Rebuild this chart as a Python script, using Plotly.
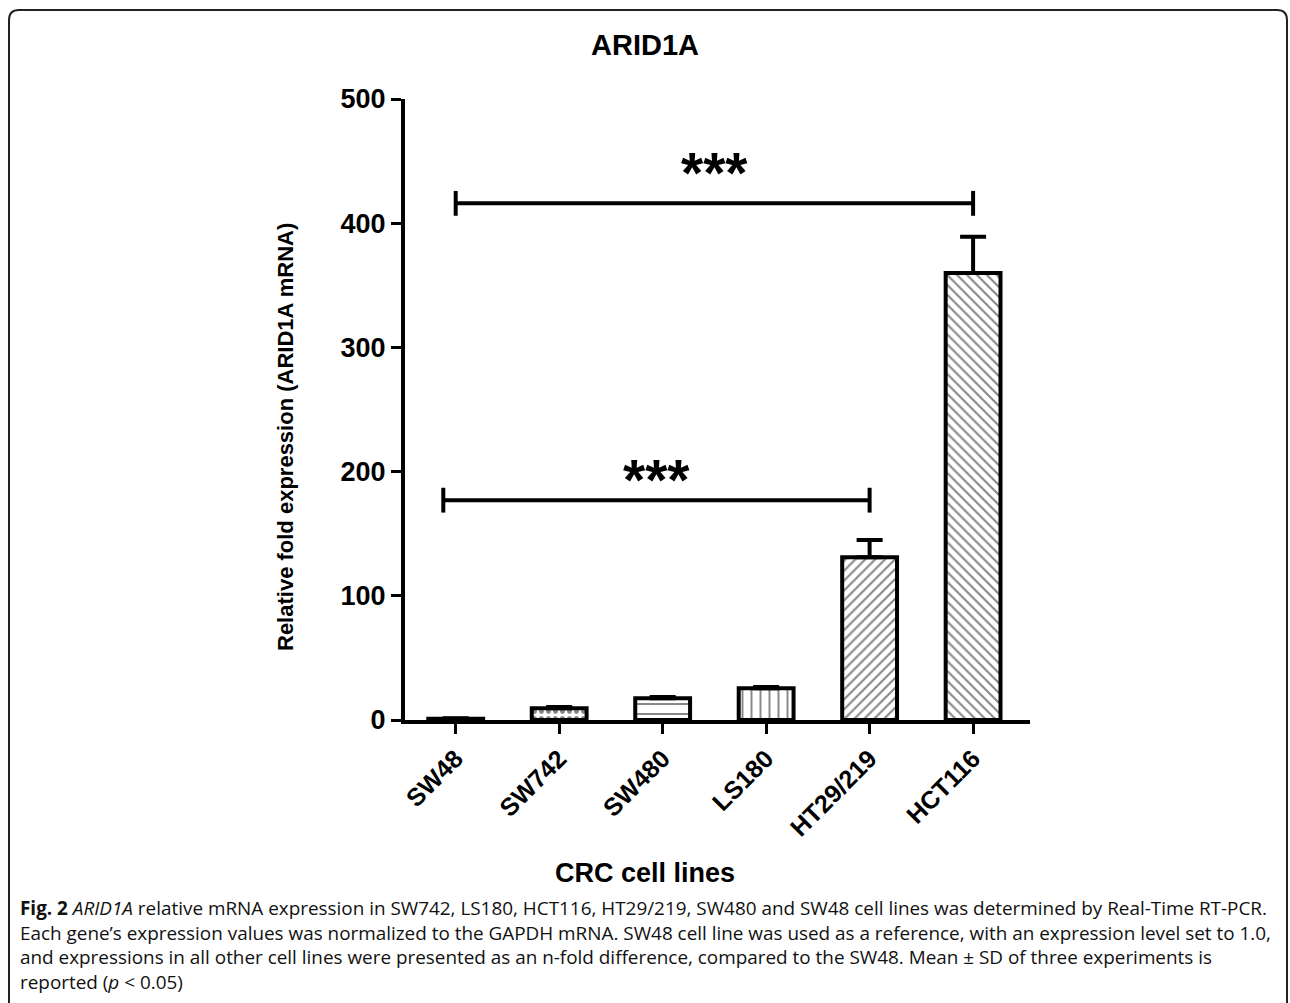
import plotly.graph_objects as go

# ---- data ----
categories = ["SW48", "SW742", "SW480", "LS180", "HT29/219", "HCT116"]
fold_expression = [1.0, 9.5, 17.5, 25.5, 131, 360]
sd_upper = [0.5, 1.0, 1.0, 1.0, 14, 29]
patterns = ["", ".", "-", "|", "/", "\\"]

bracket_pairs = [(0, 5), (-0.12, 4)]
bracket_levels = [416, 177]
bracket_labels = ["***", "***"]

title_text = "ARID1A"
y_title = "Relative fold expression (ARID1A mRNA)"
x_title = "CRC cell lines"
caption_lines = [
    "<b>Fig. 2</b> <i>ARID1A</i> relative mRNA expression in SW742, LS180, HCT116, HT29/219, SW480 and SW48 cell lines was determined by Real-Time RT-PCR.",
    "Each gene’s expression values was normalized to the GAPDH mRNA. SW48 cell line was used as a reference, with an expression level set to 1.0,",
    "and expressions in all other cell lines were presented as an n-fold difference, compared to the SW48. Mean ± SD of three experiments is",
    "reported (<i>p</i> &lt; 0.05)",
]

W, H = 1290, 1003
L, R, T, B = 405, 1030, 99, 720  # plot area in px

def px_x(px):
    return (px - L) / (R - L)

def px_y(py):
    return (B - py) / (B - T)

FONT = "Liberation Sans, Arial, sans-serif"

fig = go.Figure()
fig.add_trace(go.Bar(
    x=categories,
    y=fold_expression,
    width=0.53,
    marker=dict(
        color="white",
        line=dict(color="black", width=4),
        pattern=dict(shape=patterns, fgcolor="#111", bgcolor="white",
                     size=[8, 7, 10, 9, 7, 7], solidity=[0.3, 0.4, 0.2, 0.22, 0.3, 0.3]),
    ),
    error_y=dict(type="data", symmetric=False, array=sd_upper,
                 arrayminus=[0] * len(sd_upper), color="black", thickness=4, width=13),
    showlegend=False,
))

# significance brackets
shapes = []
annotations = []
star_shift = [-4, -14]
for (a, b), lvl, lab, sh in zip(bracket_pairs, bracket_levels, bracket_labels, star_shift):
    shapes.append(dict(type="line", xref="x", yref="y", x0=a, x1=b, y0=lvl, y1=lvl,
                       line=dict(color="black", width=4)))
    for xx in (a, b):
        shapes.append(dict(type="line", xref="x", yref="y", x0=xx, x1=xx, y0=lvl - 10, y1=lvl + 10,
                           line=dict(color="black", width=4)))
    annotations.append(dict(x=(a + b) / 2, y=lvl, xref="x", yref="y", text=lab, showarrow=False,
                            xanchor="center", yanchor="bottom", yshift=sh,
                            font=dict(family=FONT, size=57, color="black", weight="bold")))

# rounded frame border
x0, x1, y0, y1, r = px_x(9), px_x(1287), px_y(10), px_y(1015), 10
rx, ry = r / (R - L), r / (B - T)
path = (f"M {x0} {y1} L {x0} {y0 - ry} Q {x0} {y0} {x0 + rx} {y0} "
        f"L {x1 - rx} {y0} Q {x1} {y0} {x1} {y0 - ry} L {x1} {y1}")
shapes.append(dict(type="path", xref="paper", yref="paper", path=path,
                   line=dict(color="#222", width=2)))

# title & axis titles as annotations (centered on page)
annotations.append(dict(x=px_x(645), y=px_y(45), xref="paper", yref="paper", text=f"<b>{title_text}</b>",
                        xanchor="center", yanchor="middle",
                        showarrow=False, font=dict(family=FONT, size=29, color="black")))
annotations.append(dict(x=px_x(645), y=px_y(873), xref="paper", yref="paper", text=f"<b>{x_title}</b>",
                        xanchor="center", yanchor="middle",
                        showarrow=False, font=dict(family=FONT, size=27, color="black")))
annotations.append(dict(x=px_x(285), y=px_y(437), xref="paper", yref="paper", text=f"<b>{y_title}</b>",
                        xanchor="center", yanchor="middle",
                        textangle=-90, showarrow=False, font=dict(family=FONT, size=22, color="black")))

# caption
cap_y = [908, 932.5, 957, 981.5]
for line, yy in zip(caption_lines, cap_y):
    annotations.append(dict(x=px_x(18), y=px_y(yy), xref="paper", yref="paper", text=line,
                            xanchor="left", yanchor="middle", showarrow=False,
                            font=dict(family="Open Sans, sans-serif", size=18.9, color="#111")))

fig.update_layout(
    width=W, height=H,
    margin=dict(l=L, r=W - R, t=T, b=H - B, pad=0, autoexpand=False),
    plot_bgcolor="white", paper_bgcolor="white",
    shapes=shapes, annotations=annotations,
    xaxis=dict(range=[-0.49, 5.55], showline=True, linecolor="black", linewidth=4,
               ticks="outside", ticklen=10, tickwidth=3, tickcolor="black",
               tickangle=-45, showgrid=False, zeroline=False,
               tickfont=dict(family=FONT, size=25, color="black", weight="bold")),
    yaxis=dict(range=[0, 500], dtick=100, showline=True, linecolor="black", linewidth=4,
               ticks="outside", ticklen=10, tickwidth=3, tickcolor="black",
               showgrid=False, zeroline=False,
               tickfont=dict(family=FONT, size=27, color="black", weight="bold")),
)

fig.write_html("out.html")
